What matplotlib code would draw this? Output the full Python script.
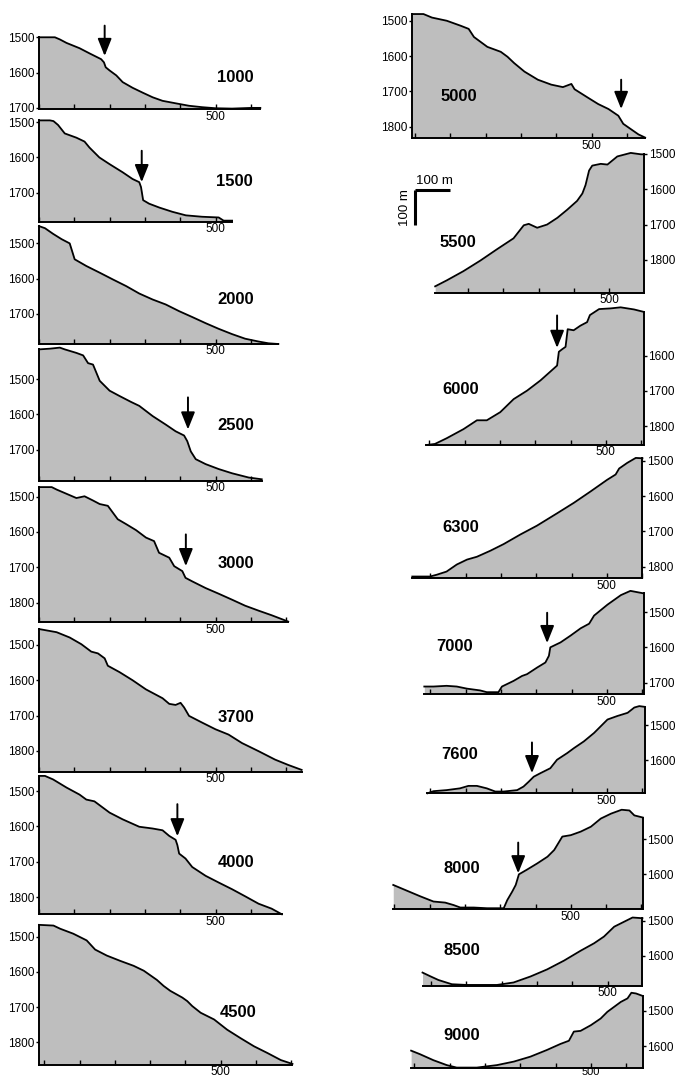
import numpy as np
import matplotlib
matplotlib.use("Agg")
import matplotlib.pyplot as plt

plt.rcParams['font.family'] = ['Liberation Sans', 'DejaVu Sans']

# profile data: distance (m) and depth (m)
x_1000 = [0, 45, 59, 78, 115, 144, 176, 184, 189, 200, 219, 237, 265, 294, 322, 350, 387, 425, 462, 500, 547, 603, 627]
z_1000 = [1500, 1500, 1506, 1516, 1531, 1546, 1562, 1571, 1585, 1594, 1608, 1627, 1643, 1657, 1670, 1680, 1687, 1694, 1698, 1701, 1702, 1700, 1700]

x_1500 = [0, 31, 41, 54, 73, 106, 129, 143, 171, 200, 237, 265, 284, 289, 295, 312, 341, 378, 416, 462, 509, 523, 547]
z_1500 = [1495, 1495, 1497, 1508, 1532, 1544, 1555, 1572, 1600, 1619, 1642, 1661, 1670, 1684, 1721, 1731, 1742, 1754, 1764, 1768, 1770, 1779, 1779]

x_2000 = [0, 17, 40, 64, 87, 92, 101, 134, 172, 209, 247, 284, 322, 359, 397, 435, 472, 509, 547, 584, 622, 650, 678]
z_2000 = [1451, 1457, 1473, 1488, 1500, 1516, 1545, 1564, 1583, 1602, 1621, 1642, 1659, 1673, 1692, 1709, 1726, 1742, 1757, 1770, 1778, 1783, 1785]

x_2500 = [0, 31, 59, 73, 106, 125, 139, 153, 172, 200, 228, 261, 284, 322, 359, 387, 411, 420, 430, 444, 472, 509, 547, 594, 631]
z_2500 = [1416, 1414, 1411, 1416, 1426, 1433, 1455, 1459, 1505, 1533, 1548, 1565, 1576, 1605, 1629, 1648, 1660, 1676, 1705, 1727, 1741, 1755, 1767, 1779, 1784]

x_3000 = [0, 36, 50, 78, 106, 129, 153, 172, 195, 209, 223, 247, 275, 303, 326, 340, 369, 383, 406, 415, 434, 472, 509, 547, 584, 622, 659, 706]
z_3000 = [1473, 1473, 1480, 1492, 1504, 1499, 1511, 1521, 1526, 1545, 1564, 1578, 1595, 1616, 1626, 1659, 1673, 1697, 1711, 1730, 1740, 1759, 1775, 1792, 1809, 1823, 1836, 1854]

x_3700 = [0, 50, 87, 120, 148, 167, 186, 195, 228, 265, 303, 350, 369, 387, 401, 411, 425, 462, 500, 537, 575, 622, 669, 706, 744]
z_3700 = [1455, 1464, 1479, 1498, 1519, 1524, 1538, 1559, 1577, 1600, 1626, 1651, 1667, 1670, 1664, 1677, 1701, 1720, 1739, 1754, 1778, 1801, 1825, 1840, 1854]

x_4000 = [0, 17, 40, 78, 115, 134, 157, 200, 237, 284, 322, 350, 369, 387, 392, 397, 415, 434, 472, 509, 547, 584, 622, 659, 688]
z_4000 = [1457, 1457, 1467, 1490, 1510, 1524, 1529, 1561, 1580, 1601, 1606, 1611, 1627, 1638, 1653, 1677, 1691, 1715, 1740, 1759, 1778, 1798, 1819, 1833, 1849]

x_4500 = [-15, 26, 45, 82, 120, 144, 177, 215, 253, 282, 319, 338, 357, 391, 405, 419, 443, 481, 518, 556, 594, 632, 670, 703]
z_4500 = [1467, 1469, 1478, 1492, 1511, 1537, 1554, 1569, 1583, 1597, 1623, 1640, 1654, 1673, 1683, 1697, 1716, 1735, 1764, 1788, 1811, 1830, 1850, 1861]

x_5000 = [-8, 24, 48, 90, 129, 152, 167, 205, 243, 262, 281, 310, 348, 386, 419, 443, 452, 490, 519, 548, 576, 590, 610, 633, 652]
z_5000 = [1481, 1481, 1491, 1500, 1514, 1523, 1546, 1574, 1588, 1602, 1620, 1644, 1667, 1681, 1688, 1679, 1694, 1718, 1736, 1750, 1769, 1792, 1806, 1822, 1831]

x_5500 = [7, 40, 87, 135, 182, 229, 258, 272, 296, 324, 353, 381, 409, 424, 433, 443, 452, 476, 495, 523, 561, 590, 599]
z_5500 = [1875, 1858, 1832, 1802, 1770, 1739, 1702, 1698, 1709, 1700, 1681, 1658, 1633, 1612, 1588, 1547, 1533, 1528, 1530, 1507, 1497, 1501, 1501]

x_6000 = [-8, 16, 49, 97, 135, 163, 201, 239, 277, 315, 343, 362, 367, 376, 386, 392, 409, 428, 447, 455, 481, 514, 542, 580, 608]
z_6000 = [1853, 1850, 1834, 1808, 1783, 1783, 1760, 1723, 1699, 1670, 1645, 1628, 1589, 1582, 1575, 1525, 1528, 1515, 1505, 1485, 1468, 1466, 1463, 1469, 1476]

x_6300 = [-51, -1, 18, 46, 75, 104, 132, 170, 208, 255, 302, 359, 407, 454, 501, 525, 535, 558, 582, 601]
z_6300 = [1828, 1828, 1823, 1814, 1794, 1780, 1772, 1755, 1736, 1709, 1684, 1649, 1619, 1587, 1554, 1539, 1522, 1506, 1492, 1493]

x_7000 = [-17, 9, 46, 75, 104, 141, 160, 193, 203, 236, 260, 274, 303, 326, 336, 340, 369, 397, 426, 450, 464, 502, 540, 567, 588, 604]
z_7000 = [1711, 1711, 1709, 1711, 1717, 1722, 1727, 1727, 1711, 1695, 1681, 1676, 1657, 1643, 1624, 1600, 1586, 1567, 1546, 1533, 1510, 1479, 1452, 1440, 1444, 1447]

x_7600 = [-8, 9, 46, 84, 108, 132, 160, 184, 208, 246, 264, 279, 293, 312, 340, 359, 388, 407, 435, 464, 502, 530, 559, 578, 592, 607]
z_7600 = [1693, 1687, 1684, 1679, 1672, 1672, 1679, 1688, 1688, 1684, 1674, 1660, 1646, 1636, 1622, 1598, 1579, 1565, 1546, 1522, 1484, 1474, 1465, 1450, 1446, 1448]

x_8000 = [-3, 35, 73, 111, 144, 168, 187, 225, 263, 310, 320, 334, 344, 353, 377, 405, 434, 453, 476, 500, 528, 557, 585, 614, 644, 666, 680, 704]
z_8000 = [1630, 1646, 1662, 1677, 1680, 1687, 1694, 1694, 1696, 1696, 1673, 1649, 1630, 1600, 1586, 1569, 1550, 1531, 1493, 1489, 1479, 1465, 1442, 1428, 1417, 1419, 1433, 1439]

x_8500 = [-24, -3, 21, 59, 101, 139, 187, 234, 282, 329, 377, 424, 462, 490, 519, 547, 571, 599]
z_8500 = [1647, 1657, 1668, 1680, 1682, 1682, 1682, 1675, 1658, 1638, 1613, 1585, 1564, 1545, 1517, 1503, 1491, 1493]

x_9000 = [-9, 16, 54, 92, 120, 177, 234, 282, 329, 376, 414, 438, 452, 471, 500, 528, 547, 566, 585, 604, 615, 628, 647]
z_9000 = [1613, 1623, 1640, 1654, 1661, 1661, 1654, 1644, 1630, 1611, 1594, 1585, 1559, 1557, 1541, 1522, 1503, 1489, 1475, 1465, 1449, 1451, 1458]

# layout: name, x, z, x0 px, bottom px, base depth, side, yticks, label pos, arrow
panels = [
    ("1000", x_1000, z_1000, 39, 109.3, 1704, "L", [1500, 1600, 1700], (556, 1613), (186, 1467, 1553)),
    ("1500", x_1500, z_1500, 39, 221.7, 1782, "L", [1500, 1600, 1700], (554, 1668), (291, 1581, 1670)),
    ("2000", x_2000, z_2000, 39, 344, 1785, "L", [1500, 1600, 1700], (556, 1659), None),
    ("2500", x_2500, z_2500, 39, 480.7, 1788, "L", [1500, 1600, 1700], (558, 1633), (422, 1552, 1643)),
    ("3000", x_3000, z_3000, 39, 622.3, 1856, "L", [1500, 1600, 1700, 1800], (558, 1690), (416, 1607, 1697)),
    ("3700", x_3700, z_3700, 39, 772, 1860, "L", [1500, 1600, 1700, 1800], (558, 1706), None),
    ("4000", x_4000, z_4000, 39, 914.3, 1849, "L", [1500, 1600, 1700, 1800], (558, 1701), (392, 1537, 1628)),
    ("4500", x_4500, z_4500, 44.3, 1065, 1864, "L", [1500, 1600, 1700, 1800], (549, 1716), None),
    ("5000", x_5000, z_5000, 415, 138.3, 1833, "L", [1500, 1600, 1700, 1800], (124, 1716), (584, 1667, 1750)),
    ("5500", x_5500, z_5500, 432.7, 292.7, 1893, "R", [1500, 1600, 1700, 1800], (70, 1751), None),
    ("6000", x_6000, z_6000, 429.3, 445, 1853, "R", [1600, 1700, 1800], (90, 1697), (362, 1486, 1578)),
    ("6300", x_6300, z_6300, 430.3, 578.3, 1833, "R", [1500, 1600, 1700, 1800], (87, 1690), None),
    ("7000", x_7000, z_7000, 430.3, 694.3, 1733, "R", [1500, 1600, 1700], (70, 1597), (331, 1502, 1588)),
    ("7600", x_7600, z_7600, 430.3, 793.3, 1693, "R", [1500, 1600], (84, 1584), (288, 1549, 1636)),
    ("8000", x_8000, z_8000, 394.3, 909.3, 1699, "R", [1500, 1600], (191, 1583), (351, 1510, 1597)),
    ("8500", x_8500, z_8500, 431, 986, 1685, "R", [1500, 1600], (87, 1585), None),
    ("9000", x_9000, z_9000, 414.3, 1068.3, 1663, "R", [1500, 1600], (134, 1569), None),
]

W, H = 675, 1079
s = 0.353  # px per metre
fig = plt.figure(figsize=(W / 100, H / 100), dpi=100)

for name, x, z, x0, ybot_px, zbase, side, yt, lab, arr in panels:
    xmin, xmax = x[0], x[-1]
    ztop = min(z)
    left = x0 + xmin * s
    ax = fig.add_axes([left / W, (H - ybot_px) / H, (xmax - xmin) * s / W, (zbase - ztop) * s / H])
    ax.set_facecolor("none")
    ax.fill_between(x, z, zbase, color="#bebebe", lw=0)
    ax.plot(x, z, color="k", lw=1.3, clip_on=False, solid_joinstyle="round")
    ax.set_xlim(xmin, xmax)
    ax.set_ylim(zbase, ztop)
    for sp in ax.spines.values():
        sp.set_visible(False)
    ax.spines["bottom"].set_visible(True)
    ax.spines["bottom"].set_linewidth(1.4)
    xt = [t for t in range(0, 800, 100) if xmin - 1 <= t <= xmax]
    ax.set_xticks(xt)
    ax.set_xticklabels(["500" if t == 500 else "" for t in xt])
    # the lowest panel sits on the figure edge, so its label is pulled up a little
    low = ybot_px > 1066
    ax.tick_params(axis="x", direction="in", length=3.5, width=1,
                   pad=-1 if low else 1, labelsize=8 if low else 8.5)
    ax.set_yticks(yt)
    ax.set_yticklabels([str(t) for t in yt])
    if side == "L":
        ax.spines["left"].set_visible(True)
        ax.spines["left"].set_linewidth(1.4)
        ax.spines["left"].set_bounds(zbase, z[0])
        ax.tick_params(axis="y", direction="out", length=2.5, width=1, pad=0.8, labelsize=8.5)
    else:
        ax.spines["right"].set_visible(True)
        ax.spines["right"].set_linewidth(1.4)
        ax.spines["right"].set_bounds(zbase, z[-1])
        ax.yaxis.tick_right()
        ax.tick_params(axis="y", direction="out", length=2.5, width=1, pad=0.8, labelsize=8.5)
    ax.text(lab[0], lab[1], name, fontsize=12, fontweight="bold", ha="center", va="center")
    if arr is not None:
        ax.annotate("", xy=(arr[0], arr[2]), xytext=(arr[0], arr[1]),
                    arrowprops=dict(arrowstyle="-|>,head_length=1.05,head_width=0.42",
                                    mutation_scale=10, lw=1.4, color="k",
                                    shrinkA=0, shrinkB=0),
                    annotation_clip=False)

# scale bar (100 m each way)
ov = fig.add_axes([0, 0, 1, 1])
ov.set_xlim(0, W)
ov.set_ylim(H, 0)
ov.axis("off")
ov.set_facecolor("none")
bar = 100 * s
ov.plot([415, 415 + bar], [190, 190], color="k", lw=2.2, solid_capstyle="butt")
ov.plot([415, 415], [190, 190 + bar], color="k", lw=2.2, solid_capstyle="butt")
ov.text(415 + bar / 2 + 2, 187, "100 m", fontsize=9.5, ha="center", va="bottom")
ov.text(411, 190 + bar / 2, "100 m", fontsize=9.5, ha="right", va="center", rotation=90)

fig.savefig("out.png", dpi=100)
